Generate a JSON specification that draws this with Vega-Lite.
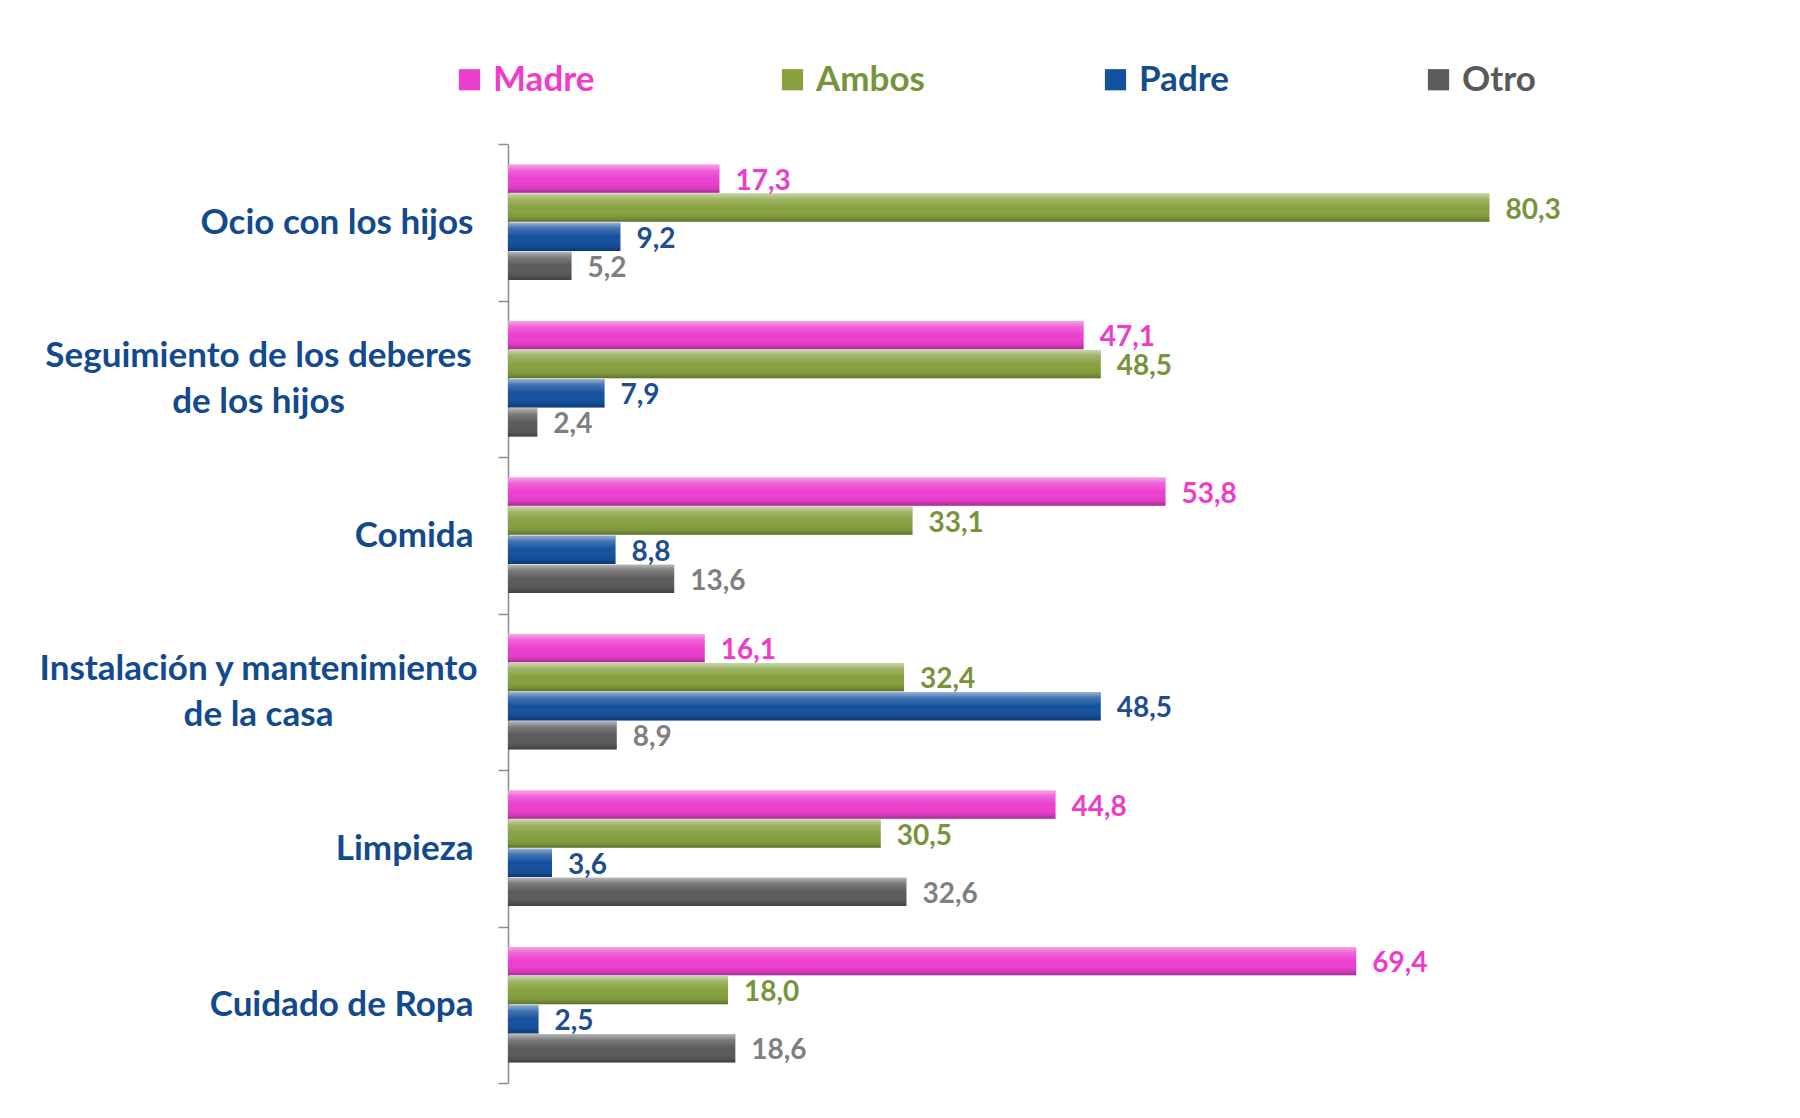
{
  "$schema": "https://vega.github.io/schema/vega-lite/v6.json",
  "autosize": {"type": "none"},
  "width": 1100,
  "height": 939,
  "padding": {"left": 508, "top": 144, "right": 192, "bottom": 35},
  "background": "white",
  "config": {
    "view": {"stroke": null},
    "font": "Lato",
    "locale": {"number": {"decimal": ",", "thousands": ".", "grouping": [3], "currency": ["", " €"]}}
  },
  "data": {
    "values": [
      {"actividad": "Ocio con los hijos", "quien": "Madre", "pct": 17.3},
      {"actividad": "Ocio con los hijos", "quien": "Ambos", "pct": 80.3},
      {"actividad": "Ocio con los hijos", "quien": "Padre", "pct": 9.2},
      {"actividad": "Ocio con los hijos", "quien": "Otro", "pct": 5.2},
      {"actividad": "Seguimiento de los deberes de los hijos", "quien": "Madre", "pct": 47.1},
      {"actividad": "Seguimiento de los deberes de los hijos", "quien": "Ambos", "pct": 48.5},
      {"actividad": "Seguimiento de los deberes de los hijos", "quien": "Padre", "pct": 7.9},
      {"actividad": "Seguimiento de los deberes de los hijos", "quien": "Otro", "pct": 2.4},
      {"actividad": "Comida", "quien": "Madre", "pct": 53.8},
      {"actividad": "Comida", "quien": "Ambos", "pct": 33.1},
      {"actividad": "Comida", "quien": "Padre", "pct": 8.8},
      {"actividad": "Comida", "quien": "Otro", "pct": 13.6},
      {"actividad": "Instalación y mantenimiento de la casa", "quien": "Madre", "pct": 16.1},
      {"actividad": "Instalación y mantenimiento de la casa", "quien": "Ambos", "pct": 32.4},
      {"actividad": "Instalación y mantenimiento de la casa", "quien": "Padre", "pct": 48.5},
      {"actividad": "Instalación y mantenimiento de la casa", "quien": "Otro", "pct": 8.9},
      {"actividad": "Limpieza", "quien": "Madre", "pct": 44.8},
      {"actividad": "Limpieza", "quien": "Ambos", "pct": 30.5},
      {"actividad": "Limpieza", "quien": "Padre", "pct": 3.6},
      {"actividad": "Limpieza", "quien": "Otro", "pct": 32.6},
      {"actividad": "Cuidado de Ropa", "quien": "Madre", "pct": 69.4},
      {"actividad": "Cuidado de Ropa", "quien": "Ambos", "pct": 18.0},
      {"actividad": "Cuidado de Ropa", "quien": "Padre", "pct": 2.5},
      {"actividad": "Cuidado de Ropa", "quien": "Otro", "pct": 18.6}
    ]
  },
  "encoding": {
    "y": {
      "field": "actividad",
      "type": "nominal",
      "sort": ["Ocio con los hijos", "Seguimiento de los deberes de los hijos", "Comida", "Instalación y mantenimiento de la casa", "Limpieza", "Cuidado de Ropa"],
      "scale": {"paddingInner": 0, "paddingOuter": 0},
      "axis": {
        "title": null,
        "grid": false,
        "domainColor": "#8C8C8C",
        "domainWidth": 1.5,
        "tickColor": "#8C8C8C",
        "tickWidth": 1.5,
        "tickSize": 10,
        "tickBand": "extent",
        "labelFont": "Lato",
        "labelFontSize": 35,
        "labelFontWeight": "bold",
        "labelColor": "#124A8D",
        "labelLineHeight": 46,
        "labelLimit": 700,
        "labelExpr": "datum.value == 'Seguimiento de los deberes de los hijos' ? ['Seguimiento de los deberes', 'de los hijos'] : datum.value == 'Instalación y mantenimiento de la casa' ? ['Instalación y mantenimiento', 'de la casa'] : datum.value",
        "labelAlign": {"condition": {"test": "datum.value == 'Seguimiento de los deberes de los hijos' || datum.value == 'Instalación y mantenimiento de la casa'", "value": "center"}, "value": "right"},
        "labelPadding": {"condition": {"test": "datum.value == 'Seguimiento de los deberes de los hijos' || datum.value == 'Instalación y mantenimiento de la casa'", "value": 240}, "value": 25},
        "labelOffset": {"condition": {"test": "datum.value == 'Seguimiento de los deberes de los hijos' || datum.value == 'Instalación y mantenimiento de la casa'", "value": -23}, "value": 0}
      }
    },
    "yOffset": {
      "field": "quien",
      "type": "nominal",
      "sort": ["Madre", "Ambos", "Padre", "Otro"],
      "scale": {"paddingInner": 0.03, "paddingOuter": 0.7}
    },
    "x": {
      "field": "pct",
      "type": "quantitative",
      "scale": {"domain": [0, 90], "nice": false},
      "axis": null
    }
  },
  "layer": [
    {
      "mark": {"type": "bar", "cornerRadius": 0},
      "encoding": {
        "color": {
          "field": "quien",
          "type": "nominal",
          "sort": ["Madre", "Ambos", "Padre", "Otro"],
          "scale": {"domain": ["Madre", "Ambos", "Padre", "Otro"], "range": ["#EC3FCF", "#87A13F", "#14519E", "#5B5B5B"]},
          "legend": {
            "title": null,
            "orient": "none",
            "legendX": -56,
            "legendY": -82,
            "direction": "horizontal",
            "columns": 4,
            "gridAlign": "all",
            "columnPadding": 173,
            "symbolType": "square",
            "symbolSize": 450,
            "symbolStrokeWidth": 0,
            "symbolOpacity": 1,
            "labelFont": "Lato",
            "labelFontSize": 35,
            "labelFontWeight": "bold",
            "labelOffset": 6,
            "labelLimit": 300,
            "encode": {
              "labels": {
                "update": {
                  "fill": {"signal": "datum.value == 'Madre' ? '#F03CCB' : datum.value == 'Ambos' ? '#77933C' : datum.value == 'Padre' ? '#154C8C' : '#595959'"}
                }
              }
            }
          }
        }
      }
    },
    {
      "mark": {
        "type": "bar",
        "fill": {
          "gradient": "linear",
          "x1": 0, "y1": 0, "x2": 0, "y2": 1,
          "stops": [
            {"offset": 0, "color": "rgba(255,255,255,0.55)"},
            {"offset": 0.2, "color": "rgba(255,255,255,0.2)"},
            {"offset": 0.5, "color": "rgba(255,255,255,0)"},
            {"offset": 0.85, "color": "rgba(0,0,0,0.08)"},
            {"offset": 1, "color": "rgba(0,0,0,0.3)"}
          ]
        }
      }
    },
    {
      "mark": {"type": "text", "align": "left", "baseline": "middle", "dx": 16, "dy": 3, "font": "Lato", "fontSize": 28, "fontWeight": "bold"},
      "encoding": {
        "text": {"field": "pct", "type": "quantitative", "format": ".1f"},
        "color": {
          "field": "quien",
          "type": "nominal",
          "scale": {"domain": ["Madre", "Ambos", "Padre", "Otro"], "range": ["#EE3CC8", "#77933C", "#1F4E8C", "#7F7F7F"]},
          "legend": null
        }
      }
    }
  ],
  "resolve": {"scale": {"color": "independent"}}
}
